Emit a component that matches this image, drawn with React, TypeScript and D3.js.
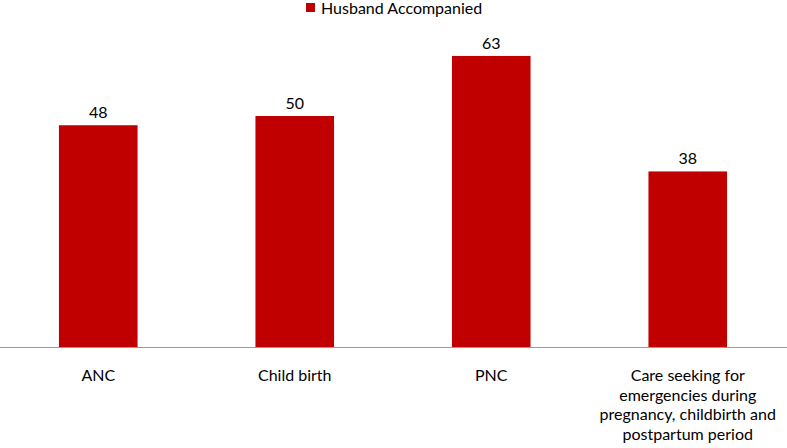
import React, { useEffect, useRef } from "react";
import * as d3 from "d3";

const categories = [
  ["ANC"],
  ["Child birth"],
  ["PNC"],
  ["Care seeking for", "emergencies during", "pregnancy, childbirth and", "postpartum period"],
];
const values = [48, 50, 63, 38];
const seriesName = "Husband Accompanied";

const W = 787;
const H = 448;

export default function App() {
  const ref = useRef<SVGSVGElement>(null);

  useEffect(() => {
    document.body.style.margin = "0";
    const svg = d3.select(ref.current);
    svg.selectAll("*").remove();

    const baseY = 347;
    const x = d3
      .scaleBand<number>()
      .domain(d3.range(values.length))
      .range([0, 786])
      .paddingInner(0.6)
      .paddingOuter(0.3);
    const y = d3.scaleLinear().domain([0, 50]).range([baseY, 116]);

    const font = "Lato, 'Open Sans', sans-serif";

    // legend
    const lg = svg.append("g");
    lg.append("rect").attr("x", 306).attr("y", 3).attr("width", 9).attr("height", 9).attr("fill", "#C00000");
    lg.append("text")
      .attr("x", 321)
      .attr("y", 14)
      .attr("font-family", font)
      .attr("font-size", 16)
      .attr("fill", "#000")
      .text(seriesName);

    // bars
    svg.selectAll(".bar")
      .data(values)
      .join("rect")
      .attr("class", "bar")
      .attr("x", (d, i) => x(i)!)
      .attr("y", (d) => y(d))
      .attr("width", x.bandwidth())
      .attr("height", (d) => baseY - y(d))
      .attr("fill", "#C00000");

    svg.selectAll(".val")
      .data(values)
      .join("text")
      .attr("class", "val")
      .attr("x", (d, i) => x(i)! + x.bandwidth() / 2)
      .attr("y", (d) => y(d) - 7)
      .attr("text-anchor", "middle")
      .attr("font-family", font)
      .attr("font-size", 16)
      .attr("fill", "#000")
      .text((d) => d);

    // axis line
    svg.append("line")
      .attr("x1", 0)
      .attr("x2", W)
      .attr("y1", baseY + 0.5)
      .attr("y2", baseY + 0.5)
      .attr("stroke", "#9a9a9a")
      .attr("stroke-width", 1);

    // category labels
    const cl = svg.selectAll(".cat")
      .data(categories)
      .join("text")
      .attr("class", "cat")
      .attr("text-anchor", "middle")
      .attr("font-family", font)
      .attr("font-size", 16)
      .attr("fill", "#000");
    cl.each(function (lines, i) {
      const t = d3.select(this);
      lines.forEach((ln, j) => {
        t.append("tspan")
          .attr("x", x(i)! + x.bandwidth() / 2)
          .attr("y", 381 + j * 19.7)
          .text(ln);
      });
    });
  }, []);

  return <svg ref={ref} width={W} height={H} style={{ display: "block", background: "#fff" }} />;
}
